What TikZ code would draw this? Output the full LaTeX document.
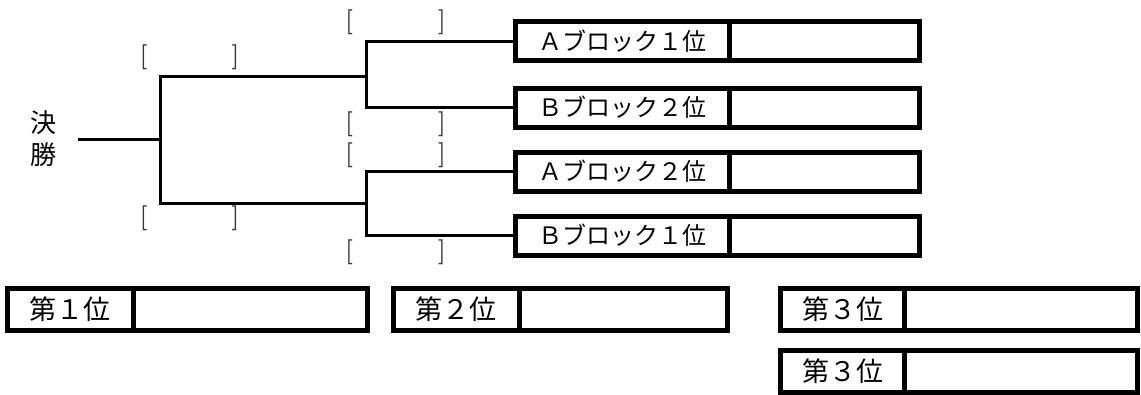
\documentclass[tikz,border=0pt]{standalone}
\usepackage{fontspec}
\newfontfamily\cjk{Noto Sans CJK JP}
\definecolor{bracketgray}{RGB}{55,55,55}
\begin{document}
\begin{tikzpicture}[x=1pt,y=-1pt,
  cell/.style={draw, line width=5pt, rectangle, inner sep=0pt, outer sep=0pt, anchor=west},
  topcell/.style={cell, minimum height=39pt, font=\cjk\fontsize{24}{24}\selectfont},
  botcell/.style={cell, minimum height=42pt, font=\cjk\fontsize{27}{27}\selectfont},
  conn/.style={line width=3pt},
  brk/.style={text=bracketgray, font=\bfseries\fontsize{25}{25}\selectfont, inner sep=0pt}]
\useasboundingbox (0,0) rectangle (1141,394);

% quarter-final boxes
\node[topcell, minimum width=213.5pt] (a1) at (515.5,41) {Ａブロック１位};
\node[topcell, minimum width=190.5pt] (a1v) at (a1.east) {};
\node[topcell, minimum width=213.5pt] (b2) at (515.5,107.5) {Ｂブロック２位};
\node[topcell, minimum width=190.5pt] (b2v) at (b2.east) {};
\node[topcell, minimum width=213.5pt] (a2) at (515.5,171.5) {Ａブロック２位};
\node[topcell, minimum width=190.5pt] (a2v) at (a2.east) {};
\node[topcell, minimum width=213.5pt] (b1) at (515.5,235.5) {Ｂブロック１位};
\node[topcell, minimum width=190.5pt] (b1v) at (b1.east) {};

% final label
\node[font=\cjk\fontsize{26}{32}\selectfont, align=center, inner sep=0pt] (kessho) at (43,139) {決\\勝};

% junctions
\coordinate (j1) at (366,76);
\coordinate (j2) at (366,203);
\coordinate (f) at (160,139.5);
\coordinate (fe) at (78,139.5);

\draw[conn] (a1.west) -| (j1) |- (b2.west);
\draw[conn] (a2.west) -| (j2) |- (b1.west);
\draw[conn] (j1) -| (f) |- (j2);
\draw[conn] (f) -- (fe);

% score brackets
\node[brk] (s1) at (189.5,57.5) {[\hspace{84pt}]};
\node[brk] (s2) at (189.5,218.5) {[\hspace{84pt}]};
\node[brk] (q1) at (395.5,22.5) {[\hspace{85pt}]};
\node[brk] (q2) at (395.5,124.5) {[\hspace{85pt}]};
\node[brk] (q3) at (395.5,155.5) {[\hspace{85pt}]};
\node[brk] (q4) at (395.5,252) {[\hspace{85pt}]};

% ranking boxes
\node[botcell, minimum width=125.5pt] (r1) at (7.5,309.5) {第１位};
\node[botcell, minimum width=234.5pt] (r1v) at (r1.east) {};
\node[botcell, minimum width=125.5pt] (r2) at (393.5,309.5) {第２位};
\node[botcell, minimum width=208.5pt] (r2v) at (r2.east) {};
\node[botcell, minimum width=124pt] (r3) at (780.5,309.5) {第３位};
\node[botcell, minimum width=233pt] (r3v) at (r3.east) {};
\node[botcell, minimum width=124pt] (r4) at (780.5,371.5) {第３位};
\node[botcell, minimum width=233pt] (r4v) at (r4.east) {};
\end{tikzpicture}
\end{document}
